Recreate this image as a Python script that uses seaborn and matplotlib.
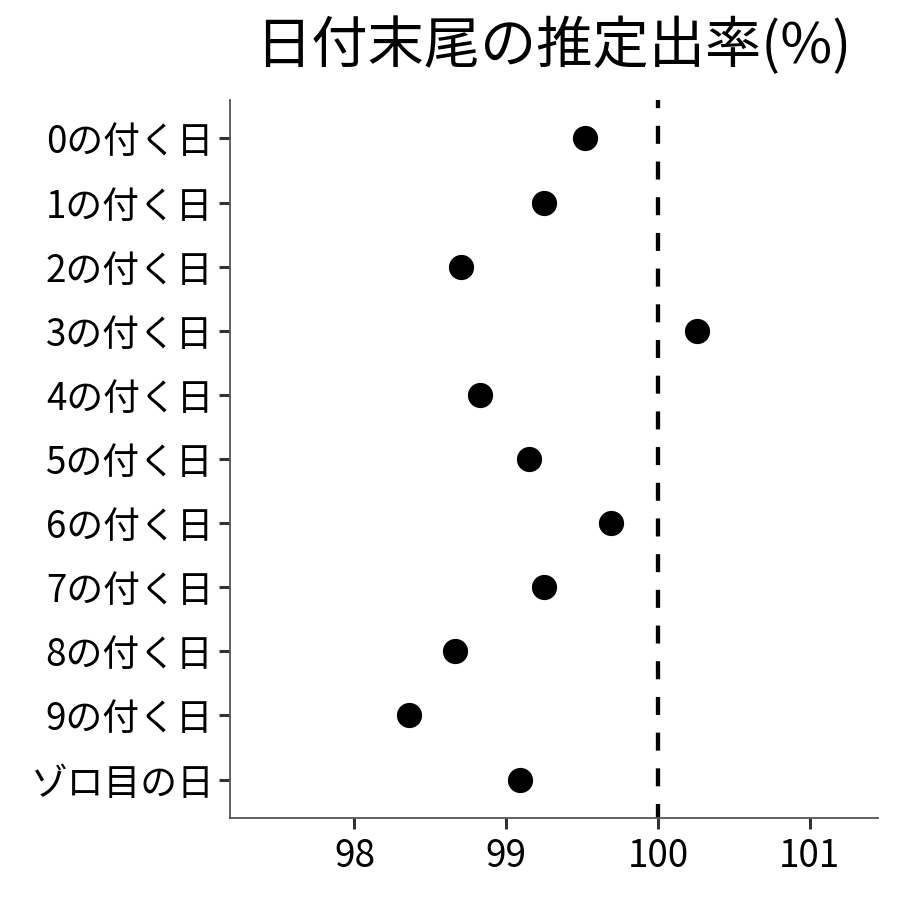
import matplotlib
matplotlib.use("Agg")
import matplotlib.pyplot as plt
import seaborn as sns
import pandas as pd

categories = ["0の付く日", "1の付く日", "2の付く日", "3の付く日", "4の付く日",
              "5の付く日", "6の付く日", "7の付く日", "8の付く日", "9の付く日", "ゾロ目の日"]
rates = [99.52, 99.25, 98.70, 100.26, 98.83, 99.15, 99.69, 99.25, 98.66, 98.36, 99.09]
xticks = [98, 99, 100, 101]
title = "日付末尾の推定出率(%)"

df = pd.DataFrame({"label": categories, "rate": rates})

sns.set_theme(style="white")
plt.rcParams['font.family'] = ['Noto Sans CJK JP', 'DejaVu Sans']
plt.rcParams['lines.scale_dashes'] = False

fig = plt.figure(figsize=(9, 9), dpi=100)
ax = fig.add_axes([230/900, 1-818/900, (878-230)/900, (818-100)/900])

ax.axvline(100, color="black", lw=3.1, ls=(2.9, (12.96, 12.74)), zorder=1)
sns.scatterplot(data=df, x="rate", y="label", ax=ax, color="black", s=330,
                edgecolor="black", linewidth=0, zorder=3, legend=False)

ax.set_xlim(97.18, 101.45)
ax.set_ylim(10.6, -0.6)
ax.set_xticks(xticks)
ax.set_xticklabels([str(t) for t in xticks])
ax.set_xlabel("")
ax.set_ylabel("")
ax.tick_params(axis="both", which="both", length=8, width=2.2, color="#333333",
               labelsize=26.5, labelcolor="black", pad=4, direction="out")
ax.tick_params(axis="x", pad=6)
ax.tick_params(left=True, bottom=True)
for s in ["top", "right"]:
    ax.spines[s].set_visible(False)
for s in ["left", "bottom"]:
    ax.spines[s].set_color("#555555")
    ax.spines[s].set_linewidth(1.3)

fig.text(553/900, 1-47/900, title, ha="center", va="center", fontsize=40.5, color="black")

fig.savefig("out.png", dpi=100, facecolor="white")
